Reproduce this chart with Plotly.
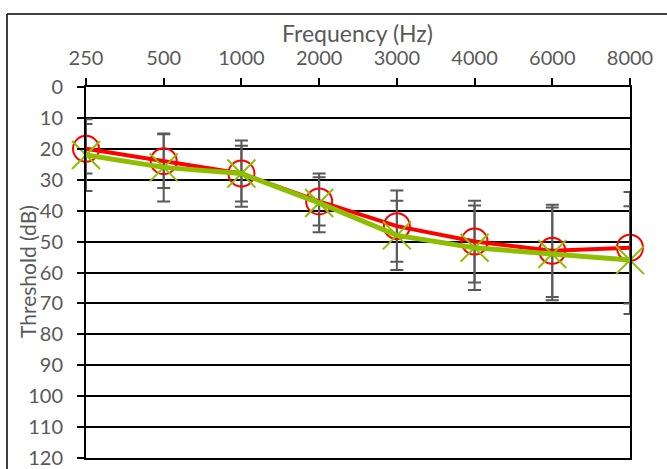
import plotly.graph_objects as go

freqs = ["250", "500", "1000", "2000", "3000", "4000", "6000", "8000"]
red_vals = [20, 24, 28, 37, 45, 50, 53, 52]
red_err = [8, 8.7, 9, 7.8, 11.5, 13.2, 14.9, 18]
green_vals = [22, 26, 28, 37.5, 48, 52, 54, 56]
green_err = [11.6, 11, 10.7, 9.5, 11.2, 13.7, 15, 17.4]
y_ticks = list(range(0, 121, 10))

RED = "#FF0000"
GREEN = "#8DBE00"
GRAY = "#595959"
TXT = "#595959"
FONT = "Lato"

W, H = 667, 469
L, R, T, B = 86, 37, 87, 11
pw, ph = W - L - R, H - T - B


def px_x(px):
    return (px - L) / pw


def px_y(py):
    return (H - B - py) / ph


fig = go.Figure()

# error bars (drawn beneath lines)
for vals, err in ((red_vals, red_err), (green_vals, green_err)):
    fig.add_trace(go.Scatter(
        x=freqs, y=vals, mode="markers",
        marker=dict(size=1, opacity=0),
        error_y=dict(type="data", array=err, visible=True,
                     color=GRAY, thickness=2, width=6.5),
        showlegend=False, hoverinfo="skip",
    ))

fig.add_trace(go.Scatter(
    x=freqs, y=red_vals, mode="lines+markers",
    line=dict(color=RED, width=4),
    marker=dict(symbol="circle-open", size=26, color=RED,
                line=dict(color=RED, width=2)),
    cliponaxis=False, showlegend=False,
))
fig.add_trace(go.Scatter(
    x=freqs, y=green_vals, mode="lines+markers",
    line=dict(color=GREEN, width=5),
    marker=dict(symbol="x-thin-open", size=28, color=GREEN,
                line=dict(color=GREEN, width=2)),
    cliponaxis=False, showlegend=False,
))

fig.update_layout(
    width=W, height=H,
    margin=dict(l=L, r=R, t=T, b=B, autoexpand=False),
    paper_bgcolor="white", plot_bgcolor="white",
    font=dict(family=FONT, size=20, color=TXT),
    xaxis=dict(
        type="category", side="top", range=[0, 7], automargin=False,
        showgrid=False, zeroline=False,
        showline=True, linecolor="black", linewidth=2, mirror=True,
        ticks="outside", ticklen=7, tickwidth=2, tickcolor="black",
        ticklabelstandoff=5,
        tickfont=dict(family=FONT, size=20, color=TXT),
    ),
    yaxis=dict(
        range=[120, 0], tickvals=y_ticks, automargin=False,
        showgrid=True, gridcolor="black", gridwidth=1.5,
        zeroline=False,
        showline=True, linecolor="black", linewidth=2, mirror=True,
        ticks="outside", ticklen=7, tickwidth=2, tickcolor="black",
        ticklabelstandoff=10,
        tickfont=dict(family=FONT, size=20, color=TXT),
    ),
    annotations=[
        dict(text="Frequency (Hz)", xref="paper", yref="paper",
             x=px_x(357.5), y=px_y(33), xanchor="center", yanchor="middle",
             showarrow=False, font=dict(family=FONT, size=23, color=TXT)),
        dict(text="Threshold (dB)", xref="paper", yref="paper",
             x=px_x(27), y=px_y(272), xanchor="center", yanchor="middle",
             textangle=-90, showarrow=False,
             font=dict(family=FONT, size=21, color=TXT)),
    ],
    shapes=[
        dict(type="line", xref="paper", yref="paper",
             x0=px_x(7), x1=px_x(W + 5), y0=px_y(14), y1=px_y(14),
             line=dict(color="black", width=1.5)),
        dict(type="line", xref="paper", yref="paper",
             x0=px_x(7), x1=px_x(7), y0=px_y(14), y1=px_y(H + 5),
             line=dict(color="black", width=1.5)),
    ],
)

fig.write_html(
    "out.html",
    config={"displayModeBar": False},
    post_script="document.body.style.margin='0';document.body.style.padding='0';",
)
